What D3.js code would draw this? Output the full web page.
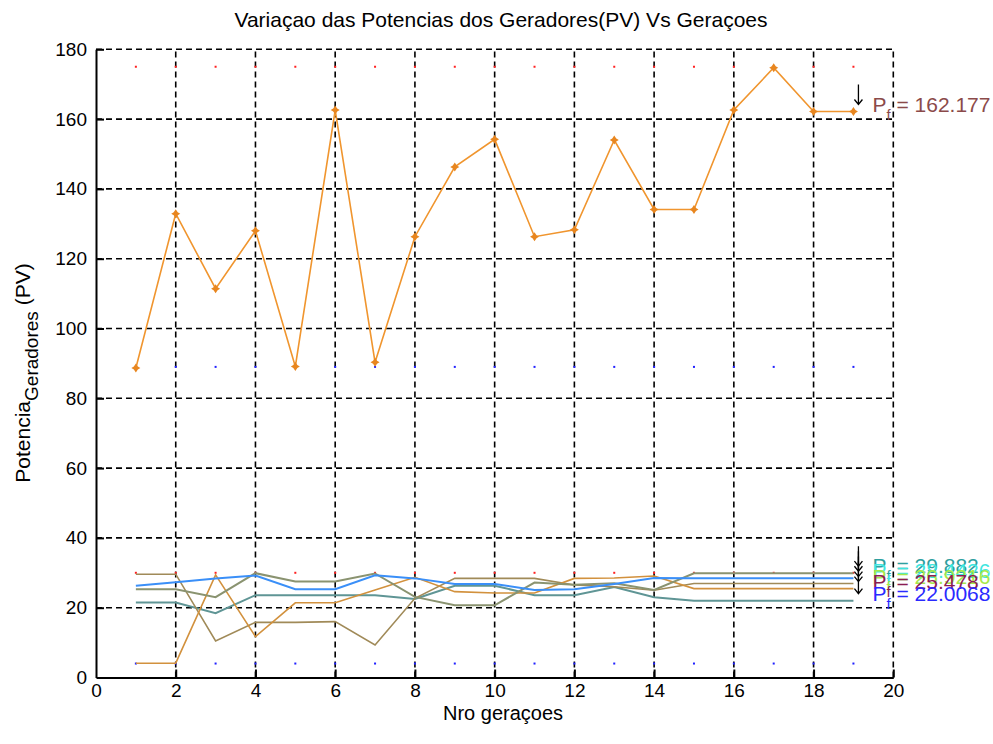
<!DOCTYPE html>
<html>
<head>
<meta charset="utf-8">
<script src="https://cdn.jsdelivr.net/npm/d3@7"></script>
<style>
  html, body { margin: 0; padding: 0; background: #fff; }
  svg { display: block; }
  text { font-family: "Liberation Sans", Arial, sans-serif; }
</style>
</head>
<body>
<svg id="chart" width="993" height="744"></svg>
<script>
// Generation index
const geracoes = [1, 2, 3, 4, 5, 6, 7, 8, 9, 10, 11, 12, 13, 14, 15, 16, 17, 18, 19];

// Power of the large PV generator per generation
const potPrincipal = [88.7, 132.9, 111.4, 128.0, 89.1, 162.6, 90.3, 126.3, 146.3, 154.2, 126.3, 128.3, 154.0, 134.1, 134.1, 162.6, 174.7, 162.177, 162.177];

// Power of the small PV generators per generation
const potVerdeOliva = [25.3, 25.3, 23.0, 29.9, 27.5, 27.5, 29.8, 23.1, 20.7, 20.7, 27.2, 26.6, 27.0, 25.1, 29.882, 29.882, 29.882, 29.882, 29.882];
const potAzul       = [26.3, 27.3, 28.4, 29.2, 25.3, 25.3, 29.3, 28.4, 26.8, 26.8, 25.1, 25.3, 26.8, 28.5, 28.4426, 28.4426, 28.4426, 28.4426, 28.4426];
const potCaqui      = [29.6, 29.6, 10.5, 15.8, 15.8, 16.0, 9.3, 22.7, 28.4, 28.4, 28.4, 26.5, 26.0, 25.0, 26.9216, 26.9216, 26.9216, 26.9216, 26.9216];
const potLaranja    = [4.1, 4.1, 29.4, 11.7, 21.4, 21.4, 25.1, 28.7, 24.6, 24.2, 24.2, 28.4, 28.5, 29.1, 25.478, 25.478, 25.478, 25.478, 25.478];
const potPetroleo   = [21.5, 21.5, 18.4, 23.6, 23.6, 23.6, 23.6, 22.5, 26.3, 26.3, 23.6, 23.6, 25.9, 23.0, 22.0068, 22.0068, 22.0068, 22.0068, 22.0068];

// Generator limits (Pmax / Pmin) shown as dots at every generation
const limMaxGrande = [175, 175, 175, 175, 175, 175, 175, 175, 175, 175, 175, 175, 175, 175, 175, 175, 175, 175, 175];
const limMinGrande = [89, 89, 89, 89, 89, 89, 89, 89, 89, 89, 89, 89, 89, 89, 89, 89, 89, 89, 89];
const limMaxPequeno = [30, 30, 30, 30, 30, 30, 30, 30, 30, 30, 30, 30, 30, 30, 30, 30, 30, 30, 30];
const limMinPequeno = [4, 4, 4, 4, 4, 4, 4, 4, 4, 4, 4, 4, 4, 4, 4, 4, 4, 4, 4];

// Axis ticks
const xTicks = [0, 2, 4, 6, 8, 10, 12, 14, 16, 18, 20];
const yTicks = [0, 20, 40, 60, 80, 100, 120, 140, 160, 180];

// Final-value annotations
const finais = [
  { serie: potVerdeOliva, valor: "29.882",  cor: "#2f9f9f" },
  { serie: potAzul,       valor: "28.4426", cor: "#3fe6e0" },
  { serie: potCaqui,      valor: "26.9216", cor: "#a6e84a" },
  { serie: potLaranja,    valor: "25.478",  cor: "#8c1d52" },
  { serie: potPetroleo,   valor: "22.0068", cor: "#2a2aff" }
];

const svg = d3.select("#chart");
const x = d3.scaleLinear().domain([0, 20]).range([96, 893.3]);
const y = d3.scaleLinear().domain([0, 180]).range([677.5, 49.3]);

// Dashed grid
const grid = svg.append("g").attr("stroke", "#000").attr("stroke-width", 1.6)
  .attr("stroke-dasharray", "6,4").attr("fill", "none");
grid.selectAll(".gx").data(xTicks.filter(d => d > 0)).join("line")
  .attr("x1", d => x(d)).attr("x2", d => x(d))
  .attr("y1", y(0)).attr("y2", y(180));
grid.selectAll(".gy").data(yTicks.filter(d => d > 0)).join("line")
  .attr("x1", x(0)).attr("x2", x(20))
  .attr("y1", d => y(d)).attr("y2", d => y(d));

// Axes
const axX = svg.append("g").attr("transform", `translate(0,${y(0)})`)
  .call(d3.axisBottom(x).tickValues(xTicks).tickSize(-8).tickPadding(6).tickSizeOuter(0));
const axY = svg.append("g").attr("transform", `translate(${x(0)},0)`)
  .call(d3.axisLeft(y).tickValues(yTicks).tickSize(-8).tickPadding(9).tickSizeOuter(0));
[axX, axY].forEach(a => {
  a.select(".domain").attr("stroke", "#000").attr("stroke-width", 2);
  a.selectAll(".tick line").attr("stroke", "#000").attr("stroke-width", 2);
  a.selectAll(".tick text").attr("fill", "#000").attr("font-size", 19)
    .attr("font-family", "'Liberation Sans', Arial, sans-serif");
});
axX.selectAll(".tick line").filter(d => d === 0).remove();
axY.selectAll(".tick line").filter(d => d === 0).remove();

// Limit dots
const dotLayer = svg.append("g");
[[limMaxGrande, "#ff2020"], [limMinGrande, "#2020ff"], [limMaxPequeno, "#ff2020"], [limMinPequeno, "#2020ff"]]
  .forEach(([arr, c]) => {
    dotLayer.selectAll(null).data(arr).join("rect")
      .attr("x", (d, i) => x(geracoes[i]) - 1).attr("y", d => y(d) - 1)
      .attr("width", 2).attr("height", 2).attr("fill", c);
  });

// Small generator lines
const line = d3.line().x((d, i) => x(geracoes[i])).y(d => y(d));
const pequenos = [
  [potPetroleo, "#5f9595", 2],
  [potCaqui, "#a08a58", 1.6],
  [potLaranja, "#d2913d", 1.6],
  [potVerdeOliva, "#8a9370", 2],
  [potAzul, "#3a8ff8", 2]
];
pequenos.forEach(([arr, c, w]) => {
  svg.append("path").datum(arr).attr("d", line)
    .attr("fill", "none").attr("stroke", c).attr("stroke-width", w);
});

// Large generator line with markers
svg.append("path").datum(potPrincipal).attr("d", line)
  .attr("fill", "none").attr("stroke", "#f0952e").attr("stroke-width", 1.6);
const marcador = "M0,-4.5L2,-1.5L4.5,0L2,1.5L0,4.5L-2,1.5L-4.5,0L-2,-1.5Z";
svg.append("g").selectAll("path").data(potPrincipal).join("path")
  .attr("transform", (d, i) => `translate(${x(geracoes[i])},${y(d)})`)
  .attr("d", marcador).attr("fill", "#e8861f");

// Final-value annotation: arrow above the last point, then P_f = value
function anotar(valor, texto, cor) {
  const px = x(geracoes[geracoes.length - 1]) + 5;
  const py = y(valor);
  svg.append("path")
    .attr("d", `M${px},${py - 27}V${py - 7}M${px - 4},${py - 12}L${px},${py - 7}L${px + 4},${py - 12}`)
    .attr("fill", "none").attr("stroke", "#000").attr("stroke-width", 1.3);
  const t = svg.append("text").attr("x", px + 14).attr("y", py)
    .attr("font-size", 21).attr("fill", cor);
  t.append("tspan").text("P");
  t.append("tspan").attr("font-size", 15).attr("dy", 8).text("f");
  t.append("tspan").attr("dy", -8).text(" = " + texto);
}
anotar(potPrincipal[potPrincipal.length - 1], "162.177", "#8b4a4a");
finais.forEach(f => anotar(f.serie[f.serie.length - 1], f.valor, f.cor));

// Title and axis labels
svg.append("text").attr("x", 501).attr("y", 27).attr("text-anchor", "middle")
  .attr("font-size", 21).attr("fill", "#000")
  .text("Variaçao das Potencias dos Geradores(PV) Vs Geraçoes");
svg.append("text").attr("x", 503).attr("y", 720).attr("text-anchor", "middle")
  .attr("font-size", 20).attr("fill", "#000").text("Nro geraçoes");
const yl = svg.append("text").attr("transform", "translate(30,373) rotate(-90)")
  .attr("text-anchor", "middle").attr("font-size", 21).attr("fill", "#000");
yl.append("tspan").text("Potencia");
yl.append("tspan").attr("font-size", 19).attr("dy", 8).text("Geradores");
yl.append("tspan").attr("dy", -8).text("  (PV)");
</script>
</body>
</html>
